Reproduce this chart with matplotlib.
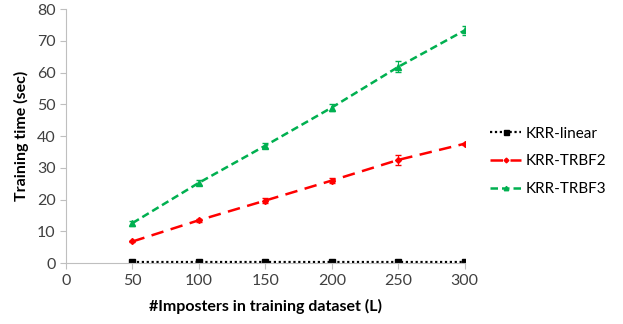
import matplotlib
matplotlib.use("Agg")
import matplotlib.pyplot as plt
from matplotlib.lines import Line2D

plt.rcParams.update({"font.family": ["Lato", "DejaVu Sans"], "font.size": 11})

L = [50, 100, 150, 200, 250, 300]
linear = [0.3, 0.3, 0.3, 0.3, 0.3, 0.3]
linear_err = [0.05, 0.05, 0.05, 0.05, 0.05, 0.05]
trbf2 = [6.8, 13.5, 19.7, 26.0, 32.5, 37.6]
trbf2_err = [0.3, 0.5, 0.9, 0.9, 1.6, 0.3]
trbf3 = [12.6, 25.3, 37.0, 49.0, 61.8, 73.3]
trbf3_err = [0.8, 0.8, 0.8, 1.2, 1.7, 1.5]
names = ["KRR-linear", "KRR-TRBF2", "KRR-TRBF3"]

fig = plt.figure(figsize=(6.23, 3.24), dpi=100)
ax = fig.add_axes([0.106, 0.188, 0.64, 0.784])

styles = [
    dict(color="black", ls=(0, (1, 1.2)), lw=1.6, marker="s", ms=4.5),
    dict(color="#ff0000", ls=(0, (5, 3)), lw=1.8, marker="D", ms=3),
    dict(color="#00b050", ls=(0, (3, 1.6)), lw=1.8, marker="^", ms=4),
]
for y, e, st in zip([linear, trbf2, trbf3], [linear_err, trbf2_err, trbf3_err], styles):
    ax.errorbar(L, y, yerr=e, capsize=2, elinewidth=0.8, **st)

ax.set_xlim(0, 300)
ax.set_ylim(0, 80)
ax.set_xticks(range(0, 301, 50))
ax.set_yticks(range(0, 81, 10))
for s in ["top", "right"]:
    ax.spines[s].set_visible(False)
for s in ["left", "bottom"]:
    ax.spines[s].set_color("#bfbfbf")
ax.tick_params(labelcolor="#404040", color="#bfbfbf", length=4, width=0.8, labelsize=11.5)
ax.set_xlabel("#Imposters in training dataset (L)", fontweight="bold", fontsize=11.5, labelpad=8)
ax.set_ylabel("Training time (sec)", fontweight="bold", fontsize=11.5, labelpad=6)

handles = [Line2D([], [], **{**st, "ms": st["ms"] * 0.8}) for st in styles]
ax.legend(handles, names, loc="center left", bbox_to_anchor=(1.03, 0.40), frameon=False,
          fontsize=11, handlelength=2.0, handletextpad=0.3, labelspacing=0.9)
fig.savefig("out.png", dpi=100)
